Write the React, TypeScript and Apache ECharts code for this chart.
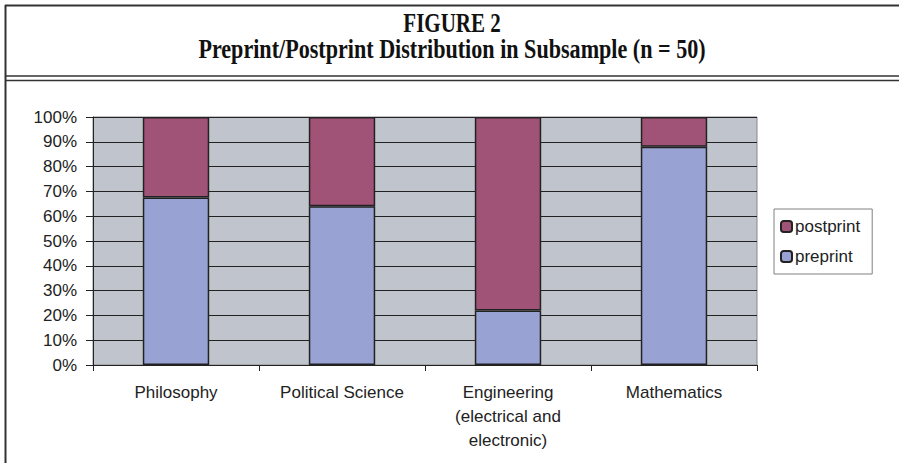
import React, { useEffect, useRef } from "react";
import * as echarts from "echarts";

const categories = [
  "Philosophy",
  "Political Science",
  "Engineering\n(electrical and\nelectronic)",
  "Mathematics",
];
const preprint = [67.5, 64, 22, 88];
const postprint = [32.5, 36, 78, 12];
const yTicks = { min: 0, max: 100, interval: 10 };
const titleLine1 = "FIGURE 2";
const titleLine2 = "Preprint/Postprint Distribution in Subsample (n = 50)";

export default function App() {
  const ref = useRef<HTMLDivElement>(null);
  useEffect(() => {
    document.body.style.margin = "0";
    const chart = echarts.init(ref.current!, null, { renderer: "svg" });
    const sans = "Liberation Sans";
    const serif = "Liberation Serif";
    chart.setOption({
      animation: false,
      backgroundColor: "#ffffff",
      textStyle: { fontFamily: sans },
      grid: {
        left: 93,
        top: 117,
        width: 664,
        height: 248,
        show: true,
        backgroundColor: "#C0C4CC",
        borderColor: "#888888",
        borderWidth: 1,
      },
      legend: {
        orient: "vertical",
        left: 774,
        top: 209,
        width: 80,
        data: ["postprint", "preprint"],
        backgroundColor: "#ffffff",
        borderColor: "#808080",
        borderWidth: 1,
        padding: [9, 12, 9, 6],
        itemGap: 13,
        itemWidth: 11,
        itemHeight: 11,
        textStyle: { fontSize: 17, color: "#222", fontFamily: sans, padding: [0, 0, 0, -2] },
      },
      xAxis: {
        type: "category",
        data: categories,
        axisLine: { show: true, lineStyle: { color: "#222", width: 1 } },
        axisTick: { show: true, length: 6, interval: 0, lineStyle: { color: "#222" } },
        axisLabel: {
          interval: 0,
          fontSize: 17,
          color: "#222",
          margin: 15,
          lineHeight: 24,
          fontFamily: sans,
        },
      },
      yAxis: {
        type: "value",
        min: yTicks.min,
        max: yTicks.max,
        interval: yTicks.interval,
        axisLine: { show: true, lineStyle: { color: "#222", width: 1 } },
        axisTick: { show: true, length: 7, lineStyle: { color: "#222" } },
        axisLabel: {
          formatter: "{value}%",
          fontSize: 17,
          color: "#222",
          margin: 16,
          fontFamily: sans,
        },
        splitLine: { show: true, lineStyle: { color: "#222", width: 1 } },
      },
      series: [
        {
          name: "preprint",
          type: "bar",
          stack: "total",
          data: preprint,
          barWidth: "40%",
          itemStyle: { color: "#99A3D3", borderColor: "#222", borderWidth: 1.5 },
        },
        {
          name: "postprint",
          type: "bar",
          stack: "total",
          data: postprint,
          barWidth: "40%",
          itemStyle: { color: "#A05377", borderColor: "#222", borderWidth: 1.5 },
        },
      ],
      graphic: [
        { type: "line", shape: { x1: 5, y1: 5.5, x2: 899, y2: 5.5 }, style: { stroke: "#333", lineWidth: 2 } },
        { type: "line", shape: { x1: 5.5, y1: 5, x2: 5.5, y2: 463 }, style: { stroke: "#333", lineWidth: 2 } },
        { type: "line", shape: { x1: 5, y1: 76, x2: 899, y2: 76 }, style: { stroke: "#333", lineWidth: 1.5 } },
        { type: "line", shape: { x1: 5, y1: 80.5, x2: 899, y2: 80.5 }, style: { stroke: "#333", lineWidth: 1.5 } },
        {
          type: "text",
          x: 452,
          y: 22,
          scaleX: 0.75,
          style: {
            text: titleLine1,
            font: `bold 28px "${serif}"`,
            fill: "#111",
            align: "center",
            verticalAlign: "middle",
          },
        },
        {
          type: "text",
          x: 452,
          y: 49,
          scaleX: 0.79,
          style: {
            text: titleLine2,
            font: `bold 28px "${serif}"`,
            fill: "#111",
            align: "center",
            verticalAlign: "middle",
          },
        },
      ],
    });
    return () => chart.dispose();
  }, []);
  return <div ref={ref} style={{ width: 899, height: 463 }} />;
}
